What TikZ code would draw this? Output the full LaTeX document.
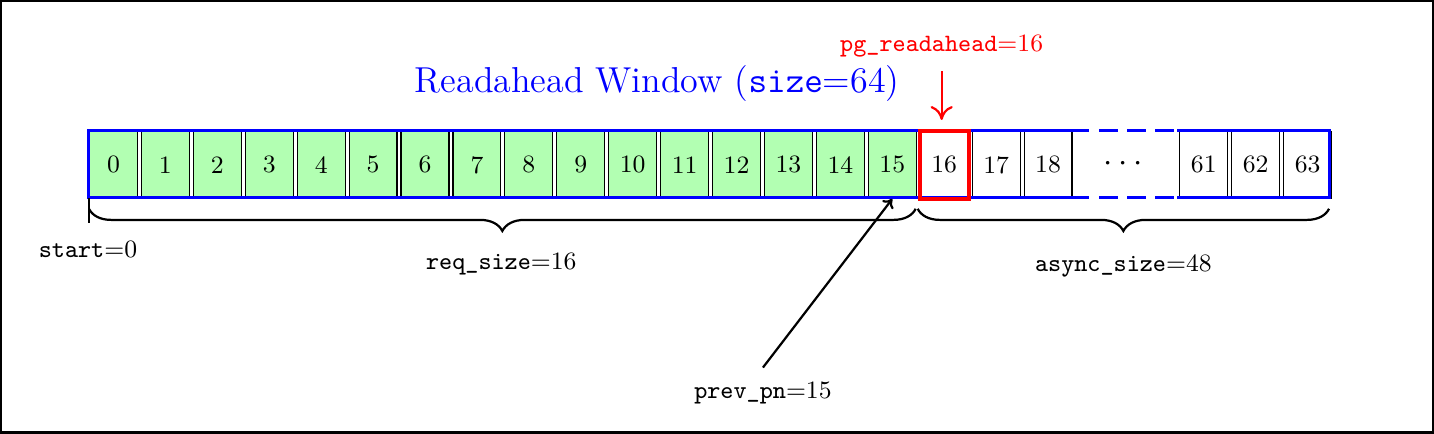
\documentclass[tikz,border=0pt]{standalone}
\usetikzlibrary{decorations.pathreplacing,arrows.meta}
\begin{document}
\begin{tikzpicture}[x=0.36pt,y=-0.36pt,
  cell/.style={draw=black,thin,minimum width=48*0.36pt,minimum height=67*0.36pt,inner sep=0pt,font=\small,anchor=north west},
  done/.style={cell,fill=green!30},
  brace/.style={decorate,decoration={brace,mirror,amplitude=8pt},thick},
  lbl/.style={font=\small}]
\draw[black,thick] (0,0) rectangle (1434,432);
\useasboundingbox (0,0) rectangle (1434,432);
\foreach \k in {0,...,15}{ \node[done] (c\k) at ({88+52*\k},130) {\k}; }
\foreach \k in {16,17,18}{ \node[cell] (c\k) at ({88+52*\k},130) {\k}; }
\foreach \k/\s in {61/21,62/22,63/23}{ \node[cell] (c\k) at ({88+52*\s},130) {\k}; }
\node[font=\large] (dots) at (1124,163.5) {$\cdots$};
% blue window
\coordinate (w1) at (88,130); \coordinate (w2) at (1072,130);
\coordinate (w3) at (1178,130); \coordinate (w4) at (1330,130);
\coordinate (v1) at (88,197); \coordinate (v2) at (1072,197);
\coordinate (v3) at (1178,197); \coordinate (v4) at (1330,197);
\draw[blue,line width=1.1pt] (w2) -- (w1) -- (v1) -- (v2);
\draw[blue,line width=1.1pt] (w3) -- (w4) -- (v4) -- (v3);
\draw[blue,line width=1.1pt,dash pattern=on 6.5pt off 3.6pt] (w2) -- (w3);
\draw[blue,line width=1.1pt,dash pattern=on 6.5pt off 3.6pt] (v2) -- (v3);
\draw[red,line width=1.4pt] (c16.north west) rectangle (c16.south east);
\node[blue,font=\fontsize{13}{15}\selectfont] (title) at (657,83) {Readahead Window (\texttt{size}=64)};
\node[red,font=\small] (pg) at (942,45) {\texttt{pg\_readahead}=16};
\coordinate (pgtip) at (942,119);
\draw[red,thick,-{To[length=5pt,width=8pt]}] (942,70) -- (pgtip);
% braces
\coordinate (b0) at (88,208); \coordinate (b1) at (916,208);
\coordinate (b2) at (918,208); \coordinate (b3) at (1330,208);
\draw[brace] (b0) -- (b1);
\draw[brace] (b2) -- (b3);
\draw (88,197) -- (88,222);
\node[lbl] (start) at (87,249) {\texttt{start}=0};
\node[lbl] (req) at (501,263) {\texttt{req\_size}=16};
\node[lbl] (async) at (1124,265) {\texttt{async\_size}=48};
\node[lbl] (prev) at (763,392) {\texttt{prev\_pn}=15};
\coordinate (ps) at (763,367);
\draw[thick,-{To[length=3pt,width=5pt]}] (ps) -- (c15.south);
\end{tikzpicture}
\end{document}
